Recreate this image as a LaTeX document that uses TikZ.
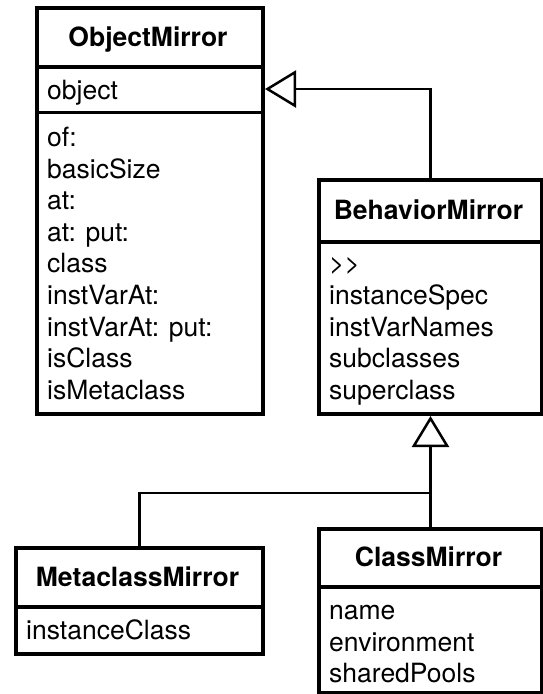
\documentclass[tikz,border=0pt]{standalone}
\usepackage{fontspec}
\setmainfont{TeX Gyre Heros}
\usetikzlibrary{arrows.meta}
\begin{document}
\begin{tikzpicture}[x=1pt,y=-1pt,
  box/.style={draw, line width=4pt, inner sep=0pt, anchor=north west},
  part/.style={inner sep=0pt, outer sep=2pt, anchor=north west},
  sep/.style={line width=3.5pt},
  title/.style={font=\fontsize{26.5}{31.6}\selectfont\bfseries, inner sep=0pt, anchor=base},
  item/.style={font=\fontsize{26.5}{31.6}\selectfont, inner sep=0pt, anchor=base west},
  conn/.style={line width=2.5pt},
  gen/.style={conn, -{Triangle[open, length=31pt, width=37pt]}}]
\useasboundingbox (0,0) rectangle (542,694);

% ObjectMirror
\node[box, minimum width=226pt, minimum height=406pt] (om) at (35,6) {};
\node[part, minimum width=226pt, minimum height=45.5pt] (omattr) at (35,67) {};
\draw[sep] (om.west |- 0,67) -- (om.east |- 0,67);
\draw[sep] (om.west |- 0,112.5) -- (om.east |- 0,112.5);
\node[title] (omt) at (148,46) {ObjectMirror};
\node[item] (oma) at (47,99.5) {object};
\foreach \t [count=\i from 0] in {of:,basicSize,at:,at: put:,class,instVarAt:,instVarAt: put:,isClass,isMetaclass}
  \node[item] (omm\i) at (47,146.5+31.6*\i) {\t};

% BehaviorMirror
\node[box, minimum width=223pt, minimum height=234pt] (bm) at (317,178) {};
\draw[sep] (bm.west |- 0,242) -- (bm.east |- 0,242);
\node[title] (bmt) at (428.5,219.5) {BehaviorMirror};
\foreach \t [count=\i from 0] in {{>}{>},instanceSpec,instVarNames,subclasses,superclass}
  \node[item] (bmm\i) at (329,272.9+31.6*\i) {\t};

% MetaclassMirror
\node[box, minimum width=247pt, minimum height=106pt] (mm) at (14,546) {};
\draw[sep] (mm.west |- 0,607) -- (mm.east |- 0,607);
\node[title] (mmt) at (137.5,586) {MetaclassMirror};
\node[item] (mma) at (26,639.5) {instanceClass};

% ClassMirror
\node[box, minimum width=223pt, minimum height=164pt] (cm) at (317,527) {};
\draw[sep] (cm.west |- 0,587) -- (cm.east |- 0,587);
\node[title] (cmt) at (428.5,566.5) {ClassMirror};
\foreach \t [count=\i from 0] in {name,environment,sharedPools}
  \node[item] (cmm\i) at (329,619.5+31.6*\i) {\t};

% connectors
\draw[gen] (bm.north) |- ([yshift=2.75pt]omattr.east);
\draw[gen] (cm.north) -- (bm.south);
\coordinate (jn) at (428.5,493);
\draw[conn] (mm.north) |- (jn);
\end{tikzpicture}
\end{document}
